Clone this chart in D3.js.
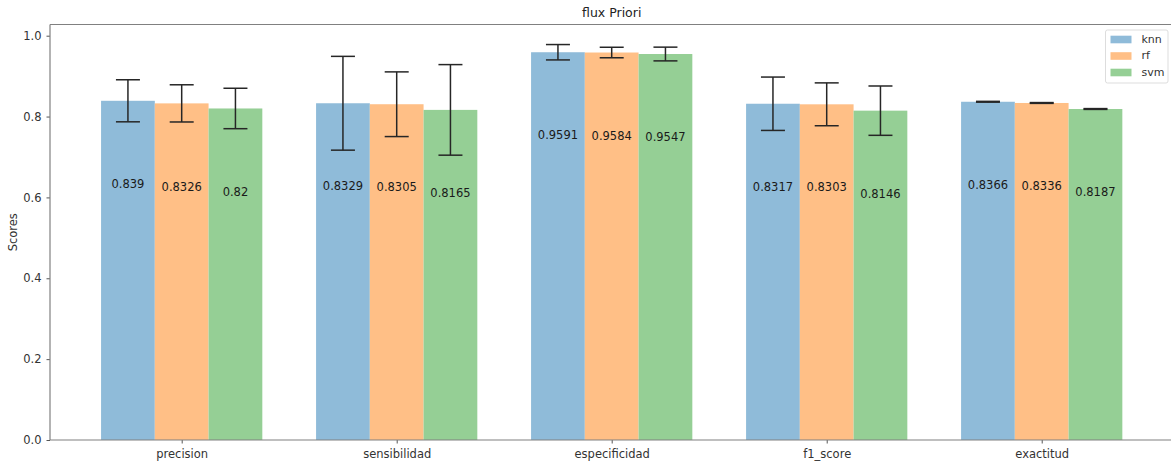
<!DOCTYPE html>
<html>
<head>
<meta charset="utf-8">
<script src="https://cdn.jsdelivr.net/npm/d3@7"></script>
<style>
  html, body { margin: 0; padding: 0; background: #fff; }
  svg { display: block; font-family: "DejaVu Sans", sans-serif; }
</style>
</head>
<body>
<svg id="chart" width="1171" height="463"></svg>
<script>
// Metrics and classifiers
const categories = ["precision", "sensibilidad", "especificidad", "f1_score", "exactitud"];
const seriesNames = ["knn", "rf", "svm"];

// Mean scores per classifier (one entry per metric)
const knnScores = [0.839, 0.8329, 0.9591, 0.8317, 0.8366];
const rfScores  = [0.8326, 0.8305, 0.9584, 0.8303, 0.8336];
const svmScores = [0.82, 0.8165, 0.9547, 0.8146, 0.8187];

// Standard deviations (error bar half-lengths)
const knnStd = [0.052, 0.116, 0.019, 0.066, 0.001];
const rfStd  = [0.046, 0.080, 0.013, 0.053, 0.001];
const svmStd = [0.050, 0.112, 0.017, 0.061, 0.001];

const yTicks = [0.0, 0.2, 0.4, 0.6, 0.8, 1.0];

const colors = ["#8fbbd9", "#ffbf86", "#95cf95"];
const scores = [knnScores, rfScores, svmScores];
const stds = [knnStd, rfStd, svmStd];

const svg = d3.select("#chart");
const mLeft = 50, mTop = 24.5, mBottom = 440, mRight = 1173.4;

// Numeric x scale: category index, bars offset by 0.25
const barW = 0.25;
const x = d3.scaleLinear().domain([-0.6125, 4.6125]).range([mLeft, mRight]);
const y = d3.scaleLinear().domain([0, 1.0277]).range([mBottom, mTop]);

const rows = [];
scores.forEach((arr, s) => arr.forEach((v, i) => rows.push({ s, i, v, e: stds[s][i] })));

// Bars
svg.append("g").selectAll("rect").data(rows).join("rect")
  .attr("x", d => x(d.i + (d.s - 1) * barW - barW / 2))
  .attr("width", d => x(barW) - x(0))
  .attr("y", d => y(d.v))
  .attr("height", d => y(0) - y(d.v))
  .attr("fill", d => colors[d.s]);

// Error bars
const eb = svg.append("g").attr("stroke", "#262626").attr("stroke-width", 1.5).attr("fill", "none");
rows.forEach(d => {
  const cx = x(d.i + (d.s - 1) * barW);
  const y1 = y(d.v + d.e), y0 = y(d.v - d.e);
  eb.append("line").attr("x1", cx).attr("x2", cx).attr("y1", y1).attr("y2", y0);
  eb.append("line").attr("x1", cx - 12).attr("x2", cx + 12).attr("y1", y1).attr("y2", y1);
  eb.append("line").attr("x1", cx - 12).attr("x2", cx + 12).attr("y1", y0).attr("y2", y0);
});

// Value labels inside bars
svg.append("g").selectAll("text").data(rows).join("text")
  .attr("x", d => x(d.i + (d.s - 1) * barW))
  .attr("y", d => y(d.v - 0.207))
  .attr("text-anchor", "middle")
  .attr("dominant-baseline", "middle")
  .attr("font-size", 11.5)
  .attr("fill", "#1a1a1a")
  .text(d => d.v);

// Axes
const yAxis = d3.axisLeft(y).tickValues(yTicks).tickFormat(d3.format(".1f")).tickSizeOuter(0).tickSize(3.5).tickPadding(5);
const xAxis = d3.axisBottom(x).tickValues(d3.range(categories.length)).tickFormat(i => categories[i]).tickSizeOuter(0).tickSize(3.5).tickPadding(6);

const gy = svg.append("g").attr("transform", `translate(${mLeft},0)`).call(yAxis);
const gx = svg.append("g").attr("transform", `translate(0,${mBottom})`).call(xAxis);
[gx, gy].forEach(g => {
  g.select(".domain").remove();
  g.selectAll(".tick line").attr("stroke", "#555");
  g.selectAll(".tick text").attr("font-size", 11.5).attr("fill", "#333").attr("font-family", "DejaVu Sans, sans-serif");
});

// Spines
const sp = svg.append("g").attr("stroke", "#808080").attr("stroke-width", 1.2);
sp.append("line").attr("x1", mLeft).attr("x2", mLeft).attr("y1", mTop).attr("y2", mBottom);
sp.append("line").attr("x1", mLeft).attr("x2", mRight).attr("y1", mBottom).attr("y2", mBottom);
sp.append("line").attr("x1", mLeft).attr("x2", mRight).attr("y1", mTop).attr("y2", mTop);
sp.append("line").attr("x1", mRight).attr("x2", mRight).attr("y1", mTop).attr("y2", mBottom);

// Title and axis label
svg.append("text").attr("x", (mLeft + mRight) / 2).attr("y", 17).attr("text-anchor", "middle")
  .attr("font-size", 12.5).attr("fill", "#222").text("flux Priori");
svg.append("text").attr("transform", `translate(17,${(mTop + mBottom) / 2}) rotate(-90)`)
  .attr("text-anchor", "middle").attr("font-size", 11.5).attr("fill", "#333").text("Scores");

// Legend
const lg = svg.append("g").attr("transform", "translate(1105.5,30)");
lg.append("rect").attr("width", 62.5).attr("height", 53).attr("rx", 2)
  .attr("fill", "#fff").attr("fill-opacity", 0.8).attr("stroke", "#ddd");
seriesNames.forEach((n, k) => {
  const ry = 9.5 + k * 16.5;
  lg.append("rect").attr("x", 5).attr("y", ry - 3.8).attr("width", 21).attr("height", 7.6).attr("fill", colors[k]);
  lg.append("text").attr("x", 36).attr("y", ry).attr("dominant-baseline", "middle")
    .attr("font-size", 11).attr("fill", "#333").text(n);
});
</script>
</body>
</html>
